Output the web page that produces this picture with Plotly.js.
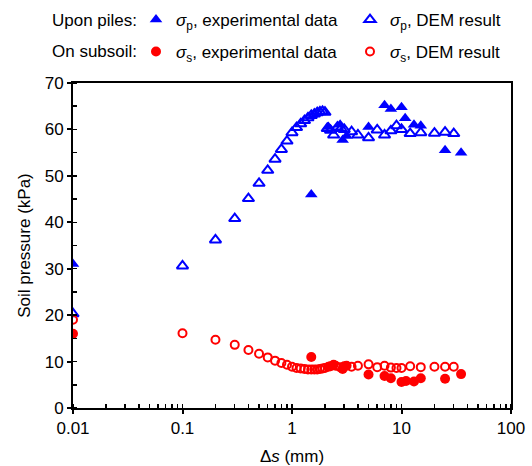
<!DOCTYPE html>
<html>
<head>
<meta charset="utf-8">
<script src="https://cdn.plot.ly/plotly-3.0.1.min.js"></script>
<style>html,body{margin:0;padding:0;background:#fff;}#chart{width:532px;height:466px;}</style>
</head>
<body>
<div id="chart"></div>
<script>
// Upon piles, experimental data
const xExpP = [0.01, 1.5, 2.15, 2.75, 2.9, 3.15, 5, 7, 8, 10, 10.8, 13, 15, 25, 35];
const yExpP = [31.0, 46.0, 60.5, 61.0, 57.7, 58.6, 60.5, 65.2, 64.4, 64.8, 62.4, 61.0, 60.8, 55.5, 55.0];
// Upon piles, DEM result
const xDemP = [0.01, 0.1, 0.2, 0.3, 0.4, 0.5, 0.6, 0.7, 0.8, 0.9, 1.0, 1.1, 1.2, 1.3, 1.4, 1.5, 1.6, 1.7, 1.8, 1.9, 2.0,
  2.1, 2.25, 2.4, 2.6, 2.8, 3.0, 3.5, 4, 5, 6, 7, 8, 9, 10, 12, 15, 20, 25, 30];
const yDemP = [20.3, 30.6, 36.2, 40.8, 45.1, 48.4, 51.2, 53.6, 55.7, 57.5, 59.3, 60.4, 61.2, 61.9, 62.5, 63.0, 63.3, 63.6, 63.8, 63.9, 63.7,
  60.2, 59.8, 58.8, 60.5, 60.2, 60.0, 59.5, 58.8, 58.2, 59.9, 58.8, 59.7, 60.8, 60.0, 59.1, 59.3, 59.2, 59.4, 59.1];
// On subsoil, experimental data
const xExpS = [0.01, 1.5, 2.15, 2.4, 2.9, 3.15, 5, 7, 8, 10, 11, 13, 15, 25, 35];
const yExpS = [16.0, 11.0, 8.9, 9.3, 8.4, 9.1, 7.2, 6.9, 6.4, 5.6, 5.8, 5.7, 6.4, 6.3, 7.3];
// On subsoil, DEM result
const xDemS = [0.01, 0.1, 0.2, 0.3, 0.4, 0.5, 0.6, 0.7, 0.8, 0.9, 1.0, 1.1, 1.2, 1.3, 1.4, 1.5, 1.6, 1.7, 1.8, 1.9, 2.0,
  2.25, 2.5, 2.75, 3.0, 3.5, 4, 5, 6, 7, 8, 9, 10, 12, 15, 20, 25, 30];
const yDemS = [19.0, 16.1, 14.7, 13.6, 12.5, 11.7, 10.9, 10.2, 9.7, 9.3, 8.9, 8.6, 8.5, 8.4, 8.3, 8.3, 8.3, 8.3, 8.4, 8.5, 8.6,
  9.0, 9.1, 8.8, 9.0, 8.9, 9.1, 9.4, 8.8, 9.1, 8.7, 8.6, 8.6, 9.0, 8.8, 8.9, 8.9, 8.9];

const xTickVals = [0.01, 0.1, 1, 10, 100];
const xTickText = ['0.01', '0.1', '1', '10', '100'];
const yTickVals = [0, 10, 20, 30, 40, 50, 60, 70];

const BLUE = '#0000ff', RED = '#ff0000';
const FONT = 'Liberation Sans, Arial, sans-serif';

const traces = [
  {x: xExpP, y: yExpP, mode: 'markers', type: 'scatter', name: '<i>σ</i><sub>p</sub>, experimental data', legend: 'legend',
   marker: {symbol: 'triangle-up', size: 11, color: BLUE}},
  {x: xDemP, y: yDemP, mode: 'markers', type: 'scatter', name: '<i>σ</i><sub>p</sub>, DEM result', legend: 'legend2',
   marker: {symbol: 'triangle-up-open', size: 10, color: BLUE, line: {width: 2, color: BLUE}}},
  {x: xExpS, y: yExpS, mode: 'markers', type: 'scatter', name: '<i>σ</i><sub>s</sub>, experimental data', legend: 'legend3',
   marker: {symbol: 'circle', size: 10, color: RED}},
  {x: xDemS, y: yDemS, mode: 'markers', type: 'scatter', name: '<i>σ</i><sub>s</sub>, DEM result', legend: 'legend4',
   marker: {symbol: 'circle-open', size: 8, color: RED, line: {width: 2, color: RED}}}
];

function leg(x, y) {
  return {orientation: 'v', xanchor: 'left', yanchor: 'middle', x: x, y: y, itemwidth: 30,
    bgcolor: 'rgba(0,0,0,0)', borderwidth: 0, font: {family: FONT, size: 17, color: '#000'}};
}
// paper coords: plot area spans 73..511 px horizontally, 83..408 px vertically
const row1 = 1 + (83 - 20) / 325, row2 = 1 + (83 - 52) / 325;
const colA = (136 - 73) / 438, colB = (350 - 73) / 438;

const layout = {
  width: 532, height: 466,
  margin: {l: 73, r: 21, t: 83, b: 58, autoexpand: false},
  paper_bgcolor: '#fff', plot_bgcolor: '#fff',
  font: {family: FONT, size: 17, color: '#000'},
  showlegend: true,
  legend: leg(colA, row1),
  legend2: leg(colB, row1),
  legend3: leg(colA, row2),
  legend4: leg(colB, row2),
  xaxis: {
    type: 'log', range: [-2, 2], tickvals: xTickVals, ticktext: xTickText,
    ticks: 'outside', ticklen: 4, tickwidth: 2, tickcolor: '#000',
    showline: true, linewidth: 2, linecolor: '#000', mirror: true,
    showgrid: false, zeroline: false,
    minor: {ticks: 'inside', ticklen: 4, tickwidth: 1.5, tickcolor: '#000', dtick: 'D1', showgrid: false},
    tickfont: {family: FONT, size: 17, color: '#000'},
    title: {text: 'Δ<i>s</i> (mm)', font: {family: FONT, size: 17, color: '#000'}, standoff: 14},
    automargin: false
  },
  yaxis: {
    range: [0, 70], tickvals: yTickVals,
    ticks: 'outside', ticklen: 4, tickwidth: 2, tickcolor: '#000',
    showline: true, linewidth: 2, linecolor: '#000', mirror: true,
    showgrid: false, zeroline: false,
    minor: {ticks: 'inside', ticklen: 4, tickwidth: 1.5, tickcolor: '#000', dtick: 5, showgrid: false},
    tickfont: {family: FONT, size: 17, color: '#000'},
    title: {text: 'Soil pressure (kPa)', font: {family: FONT, size: 17, color: '#000'}, standoff: 10},
    automargin: false
  },
  xaxis2: {
    type: 'log', range: [-2, 2], tickvals: xTickVals, overlaying: 'x', anchor: 'y', side: 'bottom',
    ticks: 'inside', ticklen: 7, tickwidth: 2, tickcolor: '#000',
    showticklabels: false, showline: false, showgrid: false, zeroline: false
  },
  yaxis2: {
    range: [0, 70], tickvals: yTickVals, overlaying: 'y', anchor: 'x', side: 'left',
    ticks: 'inside', ticklen: 7, tickwidth: 2, tickcolor: '#000',
    showticklabels: false, showline: false, showgrid: false, zeroline: false
  },
  annotations: [
    {text: 'Upon piles:', xref: 'paper', yref: 'paper', x: (139 - 73) / 438, y: row1, xanchor: 'right', yanchor: 'middle',
     showarrow: false, font: {family: FONT, size: 17, color: '#000'}},
    {text: 'On subsoil:', xref: 'paper', yref: 'paper', x: (139 - 73) / 438, y: row2, xanchor: 'right', yanchor: 'middle',
     showarrow: false, font: {family: FONT, size: 17, color: '#000'}}
  ]
};

Plotly.newPlot('chart', traces, layout, {staticPlot: true, displayModeBar: false});
</script>
</body>
</html>
